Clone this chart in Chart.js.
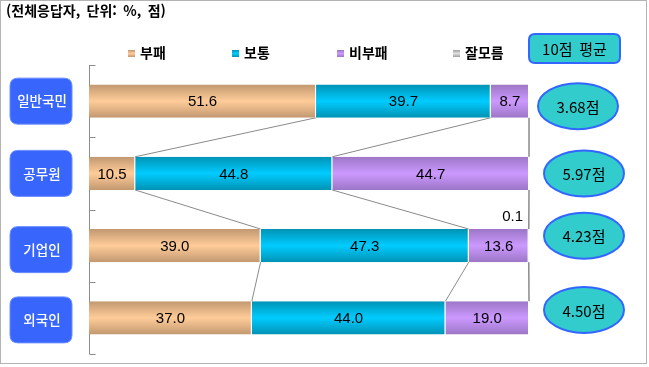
<!DOCTYPE html>
<html lang="ko">
<head>
<meta charset="utf-8">
<script src="https://cdn.jsdelivr.net/npm/chart.js@4.4.1/dist/chart.umd.min.js"></script>
<style>
  html, body { margin: 0; padding: 0; background: #ffffff; }
  #wrap { width: 649px; height: 367px; }
</style>
</head>
<body>
<div id="wrap"><canvas id="chart" width="649" height="367"></canvas></div>
<script>
const categories = ["일반국민", "공무원", "기업인", "외국인"];
const seriesNames = ["부패", "보통", "비부패", "잘모름"];
const corrupt = [51.6, 10.5, 39.0, 37.0];
const neutral = [39.7, 44.8, 47.3, 44.0];
const notCorrupt = [8.7, 44.7, 13.6, 19.0];
const unknown = [0, 0, 0.1, 0];
const scores = [3.68, 5.97, 4.23, 4.50];
const titleText = "(전체응답자,  단위:  %,  점)";
const scoreTitle = "10점  평균";

const krFont = "\"Noto Sans CJK KR\", \"Noto Sans\", sans-serif";
const numFont = "\"Liberation Sans\", Arial, sans-serif";

// dark edge / light centre of each bar gradient
const shades = [
  ["#c29870", "#ffcc99"],
  ["#0092b4", "#00ccff"],
  ["#9c76c6", "#cc99ff"],
  ["#a0a0a0", "#e0e0e0"]
];

function barGradient(ctx, top, bottom, pair) {
  const g = ctx.createLinearGradient(0, top, 0, bottom);
  g.addColorStop(0, pair[0]);
  g.addColorStop(0.5, pair[1]);
  g.addColorStop(1, pair[0]);
  return g;
}

function scriptedFill(seriesIndex) {
  return (context) => {
    const chart = context.chart;
    const area = chart.chartArea;
    if (!area || context.dataIndex === undefined) return shades[seriesIndex][1];
    const band = (area.bottom - area.top) / categories.length;
    const h = band * 0.46;
    const y = chart.scales.y.getPixelForValue(context.dataIndex);
    return barGradient(chart.ctx, y - h / 2, y + h / 2, shades[seriesIndex]);
  };
}

function roundRect(ctx, x, y, w, h, r) {
  ctx.beginPath();
  ctx.moveTo(x + r, y);
  ctx.lineTo(x + w - r, y);
  ctx.quadraticCurveTo(x + w, y, x + w, y + r);
  ctx.lineTo(x + w, y + h - r);
  ctx.quadraticCurveTo(x + w, y + h, x + w - r, y + h);
  ctx.lineTo(x + r, y + h);
  ctx.quadraticCurveTo(x, y + h, x, y + h - r);
  ctx.lineTo(x, y + r);
  ctx.quadraticCurveTo(x, y, x + r, y);
  ctx.closePath();
}

const decorations = {
  id: "decorations",
  beforeDatasetsDraw(chart) {
    const ctx = chart.ctx;
    const area = chart.chartArea;
    const yScale = chart.scales.y;
    const band = (area.bottom - area.top) / categories.length;
    const h = band * 0.46;

    ctx.save();
    // frame
    ctx.strokeStyle = "#b4b4b4";
    ctx.lineWidth = 1;
    ctx.strokeRect(0.5, 0.5, 646, 363);

    // axis with inward ticks
    ctx.strokeStyle = "#8c8c8c";
    ctx.beginPath();
    const ax = Math.round(area.left) + 0.5;
    ctx.moveTo(ax, area.top);
    ctx.lineTo(ax, area.bottom);
    for (let i = 0; i <= categories.length; i++) {
      const ty = Math.round(yScale.getPixelForValue(i - 0.5)) + 0.5;
      ctx.moveTo(ax, ty);
      ctx.lineTo(ax + 6, ty);
    }
    ctx.stroke();

    // series lines between bars
    ctx.strokeStyle = "#8a8a8a";
    ctx.beginPath();
    chart.data.datasets.forEach((ds, d) => {
      const meta = chart.getDatasetMeta(d);
      for (let i = 0; i < meta.data.length - 1; i++) {
        const a = meta.data[i];
        const b = meta.data[i + 1];
        ctx.moveTo(a.x, a.y + h / 2);
        ctx.lineTo(b.x, b.y - h / 2);
      }
    });
    ctx.stroke();
    ctx.restore();
  },
  afterDatasetsDraw(chart) {
    const ctx = chart.ctx;
    const area = chart.chartArea;
    const yScale = chart.scales.y;
    const band = (area.bottom - area.top) / categories.length;
    const h = band * 0.46;

    ctx.save();
    // value labels
    ctx.fillStyle = "#000000";
    ctx.font = "15px " + numFont;
    ctx.textBaseline = "middle";
    chart.data.datasets.forEach((ds, d) => {
      const meta = chart.getDatasetMeta(d);
      meta.data.forEach((el, i) => {
        const v = ds.data[i];
        if (d < 3) {
          ctx.textAlign = "center";
          ctx.fillText(v.toFixed(1), (el.x + el.base) / 2, el.y + 1);
        } else if (v > 0) {
          ctx.textAlign = "right";
          ctx.fillText(v.toFixed(1), el.x - 6, el.y - h / 2 - 12);
        }
      });
    });

    // title
    ctx.textAlign = "left";
    ctx.font = "bold 14px " + krFont;
    ctx.fillText(titleText, 6, 11);

    // legend
    const legendX = [128, 232, 337, 453];
    seriesNames.forEach((name, k) => {
      const lx = legendX[k];
      ctx.fillStyle = barGradient(ctx, 50, 57, shades[k]);
      ctx.fillRect(lx, 50, 7, 7);
      ctx.fillStyle = "#000000";
      ctx.font = "bold 14px " + krFont;
      ctx.fillText(name, lx + 12, 53);
    });

    // category boxes on the left
    const boxShift = [0, 0, 4, 2];
    categories.forEach((name, i) => {
      const cy = yScale.getPixelForValue(i) + boxShift[i];
      roundRect(ctx, 10, cy - 23, 62, 46, 8);
      ctx.fillStyle = "#3866fc";
      ctx.fill();
      ctx.strokeStyle = "#6a8cff";
      ctx.lineWidth = 1;
      ctx.stroke();
      ctx.fillStyle = "#ffffff";
      ctx.font = "500 13.5px " + krFont;
      ctx.textAlign = "center";
      ctx.fillText(name, 42, cy);
    });

    // score header box
    roundRect(ctx, area.right, 34, 91, 29, 6);
    ctx.fillStyle = "#33cccc";
    ctx.fill();
    ctx.strokeStyle = "#3366ff";
    ctx.lineWidth = 2;
    ctx.stroke();
    ctx.fillStyle = "#000000";
    ctx.font = "15px " + krFont;
    ctx.fillText(scoreTitle, area.right + 45.5, 49);

    // score ellipses
    const ellShift = [[-6, 5], [0, 0], [0, -10], [0, -8]];
    scores.forEach((s, i) => {
      const cx = area.right + 55 + ellShift[i][0];
      const cy = yScale.getPixelForValue(i) + ellShift[i][1];
      ctx.beginPath();
      ctx.ellipse(cx, cy, 40, 23, 0, 0, Math.PI * 2);
      ctx.fillStyle = "#33cccc";
      ctx.fill();
      ctx.strokeStyle = "#3366ff";
      ctx.lineWidth = 2;
      ctx.stroke();
      ctx.fillStyle = "#000000";
      ctx.font = "15px " + krFont;
      ctx.fillText(s.toFixed(2) + "점", cx, cy + 1);
    });
    ctx.restore();
  }
};

const seriesData = [corrupt, neutral, notCorrupt, unknown];

new Chart(document.getElementById("chart"), {
  type: "bar",
  data: {
    labels: categories,
    datasets: seriesNames.map((name, k) => ({
      label: name,
      data: seriesData[k],
      backgroundColor: scriptedFill(k),
      borderColor: "#ffffff",
      borderWidth: { top: 0, bottom: 0, left: 0, right: 1 },
      borderSkipped: false,
      categoryPercentage: 1,
      barPercentage: 0.46
    }))
  },
  options: {
    indexAxis: "y",
    responsive: false,
    animation: false,
    devicePixelRatio: 1,
    layout: { padding: { left: 89, right: 120, top: 65, bottom: 13 } },
    plugins: {
      legend: { display: false },
      tooltip: { enabled: false }
    },
    scales: {
      x: { stacked: true, min: 0, max: 100, display: false },
      y: { stacked: true, display: false }
    }
  },
  plugins: [decorations]
});
</script>
</body>
</html>
